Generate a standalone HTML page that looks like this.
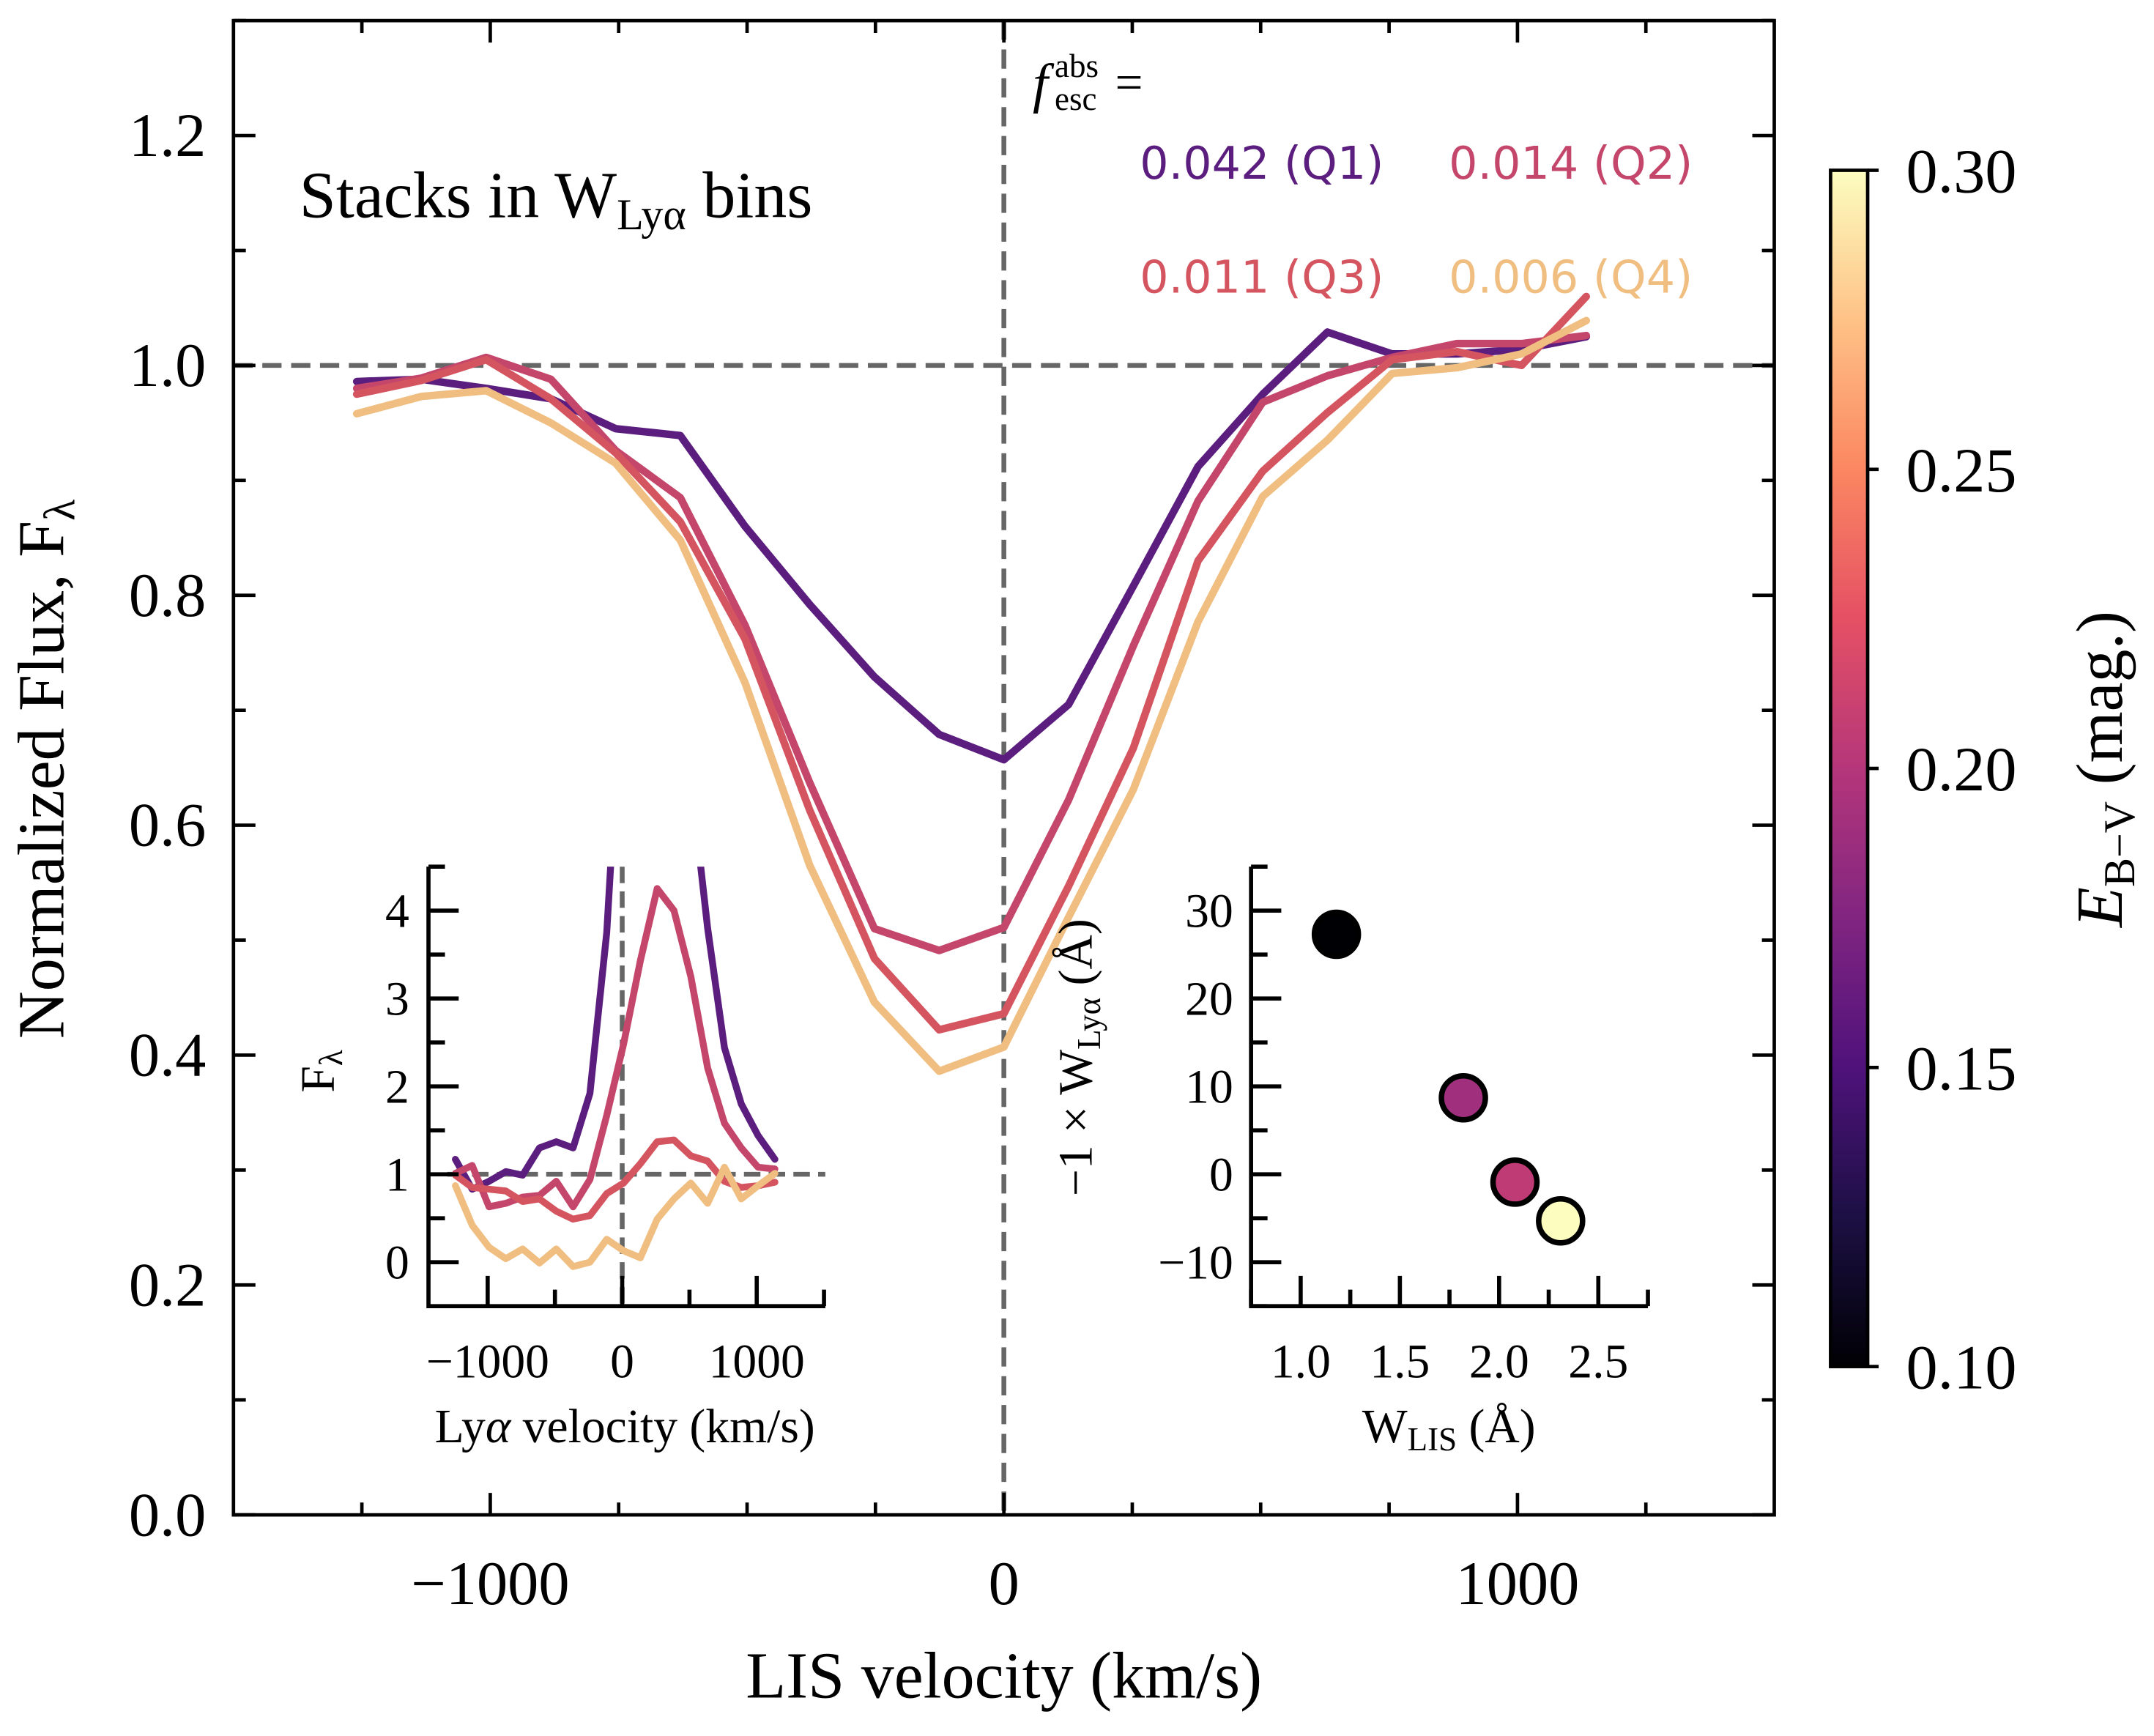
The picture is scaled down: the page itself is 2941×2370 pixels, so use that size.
<!DOCTYPE html>
<html><head><meta charset="utf-8">
<style>
html,body{margin:0;padding:0;background:#fff;}
svg{display:block;}
text{font-family:"Liberation Serif","DejaVu Serif",serif;}
.sans{font-family:"DejaVu Sans","Liberation Sans",sans-serif;}
</style></head>
<body>
<svg id="fig" width="2941" height="2370" viewBox="0 0 1568.5 1264" xmlns="http://www.w3.org/2000/svg">
<defs>
<linearGradient id="magma" x1="0" y1="1" x2="0" y2="0">
<stop offset="0" stop-color="#000004"/>
<stop offset="0.125" stop-color="#1c1044"/>
<stop offset="0.25" stop-color="#4f127b"/>
<stop offset="0.375" stop-color="#812581"/>
<stop offset="0.5" stop-color="#b5367a"/>
<stop offset="0.625" stop-color="#e55064"/>
<stop offset="0.75" stop-color="#fb8761"/>
<stop offset="0.875" stop-color="#fec287"/>
<stop offset="1" stop-color="#fcfdbf"/>
</linearGradient>
</defs>
<g id="main"></g>
<g id="inset1"></g>
<g id="inset2"></g>
<g id="cbar"></g>
</svg>
<script>
// ---- main chart data ----
const mainVel = [-1260,-1134,-1008,-882,-756,-630,-504,-378,-252,-126,0,126,252,378,504,630,756,882,1008,1134];
const mainQ1 = [0.986,0.988,0.980,0.971,0.945,0.939,0.860,0.792,0.729,0.679,0.657,0.705,0.808,0.912,0.975,1.029,1.010,1.010,1.014,1.025];
const mainQ2 = [0.980,0.989,1.007,0.988,0.926,0.885,0.774,0.637,0.510,0.491,0.511,0.622,0.756,0.882,0.968,0.991,1.007,1.019,1.019,1.026];
const mainQ3 = [0.975,0.987,1.005,0.971,0.924,0.864,0.762,0.613,0.484,0.422,0.436,0.547,0.667,0.830,0.908,0.959,1.005,1.012,1.000,1.060];
const mainQ4 = [0.958,0.973,0.978,0.950,0.915,0.848,0.724,0.565,0.446,0.386,0.407,0.520,0.631,0.777,0.886,0.935,0.993,0.998,1.010,1.039];
const mainYTicks = ["0.0","0.2","0.4","0.6","0.8","1.0","1.2"];
const mainXTicks = [-1000,0,1000];
const seriesColors = ["#5b1e7f","#c4466b","#d4555f","#f0be80"];
const legendLabels = ["0.042 (Q1)","0.014 (Q2)","0.011 (Q3)","0.006 (Q4)"];
// ---- inset 1 data ----
const insVel = [-1240,-1115,-990,-865,-740,-615,-490,-365,-240,-115,10,135,260,385,510,635,760,885,1010,1135];
const insQ1 = [1.17,0.83,0.92,1.03,0.99,1.30,1.37,1.30,1.92,3.75,7,9,9.5,8,5.5,3.80,2.44,1.80,1.44,1.17];
const insQ2 = [1.01,1.10,0.63,0.67,0.74,0.76,0.92,0.63,0.94,1.67,2.48,3.43,4.25,4.00,3.25,2.21,1.58,1.30,1.08,1.06];
const insQ3 = [0.99,0.85,0.83,0.81,0.69,0.72,0.58,0.49,0.53,0.78,0.90,1.12,1.37,1.39,1.21,1.15,0.92,0.85,0.87,0.91];
const insQ4 = [0.87,0.42,0.17,0.04,0.15,-0.01,0.15,-0.05,0.00,0.26,0.13,0.05,0.49,0.72,0.90,0.67,1.08,0.72,0.87,1.01];
const insYTicks = [0,1,2,3,4];
const insXTicks = [-1000,0,1000];
// ---- inset 2 data ----
const wLIS = [1.18,1.82,2.08,2.31];
const negWLya = [27.3,8.7,-0.9,-5.3];
const ebv = [0.10,0.19,0.205,0.30];
const sc2XTicks = ["1.0","1.5","2.0","2.5"];
const sc2YTicks = [-10,0,10,20,30];
const cbTicks = ["0.10","0.15","0.20","0.25","0.30"];

const NS="http://www.w3.org/2000/svg";
function mk(tag, attrs, parent){const e=document.createElementNS(NS,tag);for(const k in attrs)e.setAttribute(k,attrs[k]);parent.appendChild(e);return e;}
function txt(parent,x,y,str,size,anchor,extra){const t=mk('text',{x:x,y:y,'font-size':size,'text-anchor':anchor||'middle',fill:'#000'},parent);if(extra)for(const k in extra)t.setAttribute(k,extra[k]);t.innerHTML=str;return t;}

const magmaStops=[[0,[0,0,4]],[0.125,[28,16,68]],[0.25,[79,18,123]],[0.375,[129,37,129]],[0.5,[181,54,122]],[0.625,[229,80,100]],[0.75,[251,135,97]],[0.875,[254,194,135]],[1,[252,253,191]]];
function magma(t){t=Math.max(0,Math.min(1,t));for(let i=1;i<magmaStops.length;i++){if(t<=magmaStops[i][0]){const a=magmaStops[i-1],b=magmaStops[i];const f=(t-a[0])/(b[0]-a[0]);const c=a[1].map((v,j)=>Math.round(v+(b[1][j]-v)*f));return `rgb(${c[0]},${c[1]},${c[2]})`;}}return 'rgb(252,253,191)';}

// ===== MAIN =====
const M=document.getElementById('main');
const L=170,R=1292,T=15,B=1103;
const mx=v=>L+(v+1500)/3000*(R-L);
const my=f=>B-f/1.3*(B-T);
let e=mk('line',{x1:L,x2:R,y1:my(1),y2:my(1),stroke:'#666',"stroke-width":3.5,"stroke-dasharray":"14,7"},M);


e=mk('line',{x1:mx(0),x2:mx(0),y1:T,y2:B,stroke:'#666',"stroke-width":3.5,"stroke-dasharray":"14,7"},M);


[mainQ1,mainQ2,mainQ3,mainQ4].forEach((s,i)=>{
  const p=mk('polyline',{points:s.map((f,j)=>mx(mainVel[j])+','+my(f)).join(' '),fill:'none',stroke:seriesColors[i],'stroke-width':5.5,'stroke-linejoin':'round','stroke-linecap':'round'},M);
  
  
});
e=mk('rect',{x:L,y:T,width:R-L,height:B-T,fill:'none',stroke:'#000','stroke-width':2.5},M);


for(let k=0;k<=13;k++){const f=k*0.1;const y=my(f);const len=(k%2==0)?16:9;
  mk('line',{x1:L,x2:L+len,y1:y,y2:y,stroke:'#000','stroke-width':2.5},M);
  mk('line',{x1:R,x2:R-len,y1:y,y2:y,stroke:'#000','stroke-width':2.5},M);}
for(let v=-1250;v<=1250;v+=250){const x=mx(v);const len=(v%1000==0)?16:9;
  mk('line',{x1:x,x2:x,y1:B,y2:B-len,stroke:'#000','stroke-width':2.5},M);
  mk('line',{x1:x,x2:x,y1:T,y2:T+len,stroke:'#000','stroke-width':2.5},M);}
mainYTicks.forEach(s=>{const t=txt(M,150,my(parseFloat(s))+15,s,45,'end');
  
  });
mainXTicks.forEach(v=>{const t=txt(M,mx(v),1168,v<0?'−'+Math.abs(v):String(v),45,'middle');
  
  });
e=txt(M,731,1236,'LIS velocity (km/s)',48,'middle');


e=txt(M,0,0,'Normalized Flux,  F<tspan font-size="32" dy="8">λ</tspan>',48,'middle',{transform:'translate(46,560) rotate(-90)'});


e=txt(M,218,158,'Stacks in W<tspan font-size="32" dy="9">Lyα</tspan><tspan dy="-9"> bins</tspan>',48,'start');


e=txt(M,752,74,'f',40,'start',{'font-style':'italic'});


txt(M,768,56,'abs',24,'start');
txt(M,768,80,'esc',24,'start');
txt(M,812,72,'=',36,'start');
const legPos=[[830,130],[1055,130],[830,213],[1055,213]];
legendLabels.forEach((s,i)=>{const t=txt(M,legPos[i][0],legPos[i][1],s,33,'start',{class:'sans',style:'fill:'+seriesColors[i]});
  
  });

// ===== INSET 1 =====
const I=document.getElementById('inset1');
const iL=312,iR=601,iT=631,iB=951;
const ix=v=>iL+(v+1440)/2950*(iR-iL);
const iy=f=>iB-(f+0.5)/5*(iB-iT);
const cp=mk('clipPath',{id:'clip1'},I);mk('rect',{x:iL,y:iT,width:iR-iL,height:iB-iT},cp);
const gI=mk('g',{'clip-path':'url(#clip1)'},I);
e=mk('line',{x1:ix(-1300),x2:iR,y1:iy(1),y2:iy(1),stroke:'#666','stroke-width':3.5,'stroke-dasharray':'12,6'},gI);


e=mk('line',{x1:ix(0),x2:ix(0),y1:iT,y2:iB,stroke:'#666','stroke-width':3.5,'stroke-dasharray':'12,6'},gI);


[insQ1,insQ2,insQ3,insQ4].forEach((s,i)=>{
  const p=mk('polyline',{points:s.map((f,j)=>ix(insVel[j])+','+iy(f)).join(' '),fill:'none',stroke:seriesColors[i],'stroke-width':5,'stroke-linejoin':'round','stroke-linecap':'round'},gI);
  
  
});
mk('polyline',{points:`${iL},${iT} ${iL},${iB} ${iR},${iB}`,fill:'none',stroke:'#000','stroke-width':3},I);
for(let f=0;f<=4.5;f+=0.5){const len=(f%1==0)?22:12;mk('line',{x1:iL,x2:iL+len,y1:iy(f),y2:iy(f),stroke:'#000','stroke-width':3},I);}
for(let v=-1000;v<=1500;v+=500){const len=(v%1000==0)?22:12;mk('line',{x1:ix(v),x2:ix(v),y1:iB,y2:iB-len,stroke:'#000','stroke-width':3},I);}
insYTicks.forEach(f=>{const t=txt(I,298,iy(f)+12,String(f),35,'end');
  
  });
insXTicks.forEach(v=>{const t=txt(I,ix(v),1003,v<0?'−'+Math.abs(v):String(v),35,'middle');
  
  });
e=txt(I,455,1050,'Ly<tspan font-style="italic">α</tspan> velocity (km/s)',35,'middle');


e=txt(I,0,0,'F<tspan font-size="24" dy="6">λ</tspan>',35,'middle',{transform:'translate(243,780) rotate(-90)'});



// ===== INSET 2 =====
const S=document.getElementById('inset2');
const sL=911,sR=1200,sT=631,sB=951;
const sx=w=>sL+(w-0.75)/2.0*(sR-sL);
const sy=v=>sB-(v+15)/50*(sB-sT);
mk('polyline',{points:`${sL},${sT} ${sL},${sB} ${sR},${sB}`,fill:'none',stroke:'#000','stroke-width':3},S);
for(let v=-15;v<=35;v+=5){const len=(v%10==0)?22:12;mk('line',{x1:sL,x2:sL+len,y1:sy(v),y2:sy(v),stroke:'#000','stroke-width':3},S);}
for(let w=0.75;w<=2.751;w+=0.25){const len=(Math.abs(w*2-Math.round(w*2))<1e-6)?22:12;mk('line',{x1:sx(w),x2:sx(w),y1:sB,y2:sB-len,stroke:'#000','stroke-width':3},S);}
sc2YTicks.forEach(v=>{const t=txt(S,898,sy(v)+12,v<0?'−'+Math.abs(v):String(v),35,'end');
  
  });
sc2XTicks.forEach(s=>{const t=txt(S,sx(parseFloat(s)),1003,s,35,'middle');
  
  });
wLIS.forEach((w,i)=>{const c=mk('circle',{cx:sx(w),cy:sy(negWLya[i]),r:16,fill:magma((ebv[i]-0.1)/0.2),stroke:'#000','stroke-width':4},S);
  
  });
e=txt(S,1055,1050,'W<tspan font-size="24" dy="6">LIS</tspan><tspan dy="-6"> (Å)</tspan>',35,'middle');


e=txt(S,0,0,'−1 × W<tspan font-size="24" dy="6">Lyα</tspan><tspan dy="-6"> (Å)</tspan>',35,'middle',{transform:'translate(795,770) rotate(-90)'});



// ===== COLORBAR =====
const C=document.getElementById('cbar');
const cL=1333,cR=1360,cT=124,cB=995;
const cy=v=>cB-(v-0.1)/0.2*(cB-cT);
e=mk('rect',{x:cL,y:cT,width:cR-cL,height:cB-cT,fill:'url(#magma)',stroke:'#000','stroke-width':2.5},C);


cbTicks.forEach(s=>{const v=parseFloat(s);const y=cy(v);
  mk('line',{x1:cR,x2:cR+8,y1:y,y2:y,stroke:'#000','stroke-width':2.5},C);
  const t=txt(C,1388,y+16,s,46,'start');
  
  });
e=txt(C,0,0,'<tspan font-style="italic">E</tspan><tspan font-size="32" dy="9">B−V</tspan><tspan dy="-9"> (mag.)</tspan>',48,'middle',{transform:'translate(1545,560) rotate(-90)'});


</script>
</body></html>
